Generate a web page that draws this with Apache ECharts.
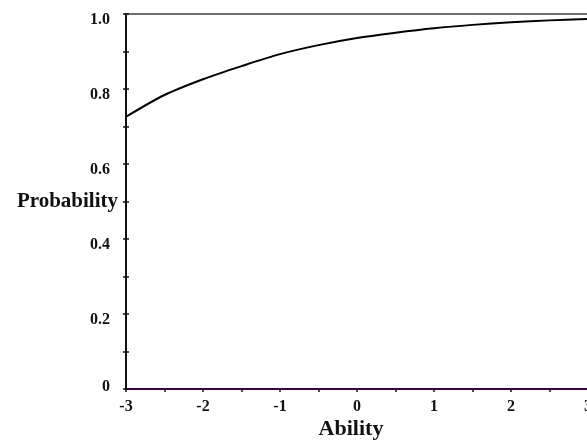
<!DOCTYPE html>
<html>
<head>
<meta charset="utf-8">
<script src="https://cdn.jsdelivr.net/npm/echarts@6/dist/echarts.min.js"></script>
<style>
  html, body { margin: 0; padding: 0; background: #fff; }
  #chart { width: 587px; height: 442px; }
</style>
</head>
<body>
<div id="chart"></div>
<script>
// ability values and probability
const ability = [-3, -2.5, -2, -1.5, -1, -0.5, 0, 0.5, 1, 1.5, 2, 2.5, 3];
const probability = [0.726, 0.784, 0.826, 0.861, 0.893, 0.917, 0.936, 0.950, 0.962, 0.971, 0.978, 0.983, 0.987];
const xTicks = [-3, -2, -1, 0, 1, 2, 3];
const yTicks = [0, 0.2, 0.4, 0.6, 0.8, 1.0];

const font = 'Liberation Serif';
let chart = echarts.init(document.getElementById('chart'), null, { renderer: 'canvas' });

let points = ability.map((a, i) => [a, probability[i]]);

chart.setOption({
  animation: false,
  grid: { left: 126, right: -1, top: 14, bottom: 53, outerBoundsMode: 'none', containLabel: false },
  xAxis: [{
    type: 'value',
    min: xTicks[0],
    max: xTicks[xTicks.length - 1],
    interval: 1,
    name: 'Ability',
    nameLocation: 'middle',
    nameGap: 29,
    nameMoveOverlap: false,
    nameTextStyle: { fontFamily: font, fontWeight: 'bold', fontSize: 22, color: '#111', padding: [0, 12, 0, 0] },
    axisLine: { onZero: false, lineStyle: { color: '#3f0040', width: 2 } },
    axisTick: { length: 3, lineStyle: { color: '#111', width: 1.5 } },
    minorTick: { show: true, splitNumber: 2, length: 3, lineStyle: { color: '#111', width: 1.5 } },
    axisLabel: { fontFamily: font, fontWeight: 'bold', fontSize: 16, color: '#111', margin: 10 },
    splitLine: { show: false }
  }, {
    type: 'value',
    position: 'top',
    min: xTicks[0],
    max: xTicks[xTicks.length - 1],
    axisLine: { show: true, onZero: false, lineStyle: { color: '#707070', width: 2 } },
    axisTick: { show: false },
    axisLabel: { show: false },
    splitLine: { show: false }
  }],
  yAxis: [{
    type: 'value',
    position: 'left',
    min: 0,
    max: 1,
    interval: 0.2,
    name: 'Probability',
    nameLocation: 'middle',
    nameRotate: 0,
    nameGap: 8,
    nameMoveOverlap: false,
    nameTextStyle: { fontFamily: font, fontWeight: 'bold', fontSize: 21, color: '#111', padding: [14, 0, 0, 0] },
    axisLine: { show: true, onZero: false, lineStyle: { color: '#111', width: 2 } },
    axisTick: { length: 3, lineStyle: { color: '#111', width: 1.5 } },
    minorTick: { show: true, splitNumber: 2, length: 3, lineStyle: { color: '#111', width: 1.5 } },
    axisLabel: {
      margin: 16,
      formatter: v => v === 0 ? '{z|0}' : '{n|' + v.toFixed(1) + '}',
      rich: {
        n: { fontFamily: font, fontWeight: 'bold', fontSize: 16, color: '#111', padding: [12, 0, 0, 0] },
        z: { fontFamily: font, fontWeight: 'bold', fontSize: 16, color: '#111', padding: [0, 0, 4, 0] }
      }
    },
    splitLine: { show: false }
  }, {
    // inner half of the crossing ticks
    type: 'value',
    position: 'left',
    min: 0,
    max: 1,
    interval: 0.2,
    axisLine: { show: false, onZero: false },
    axisTick: { inside: true, length: 3, lineStyle: { color: '#111', width: 1.5 } },
    minorTick: { show: true, splitNumber: 2, length: 3, lineStyle: { color: '#111', width: 1.5 } },
    axisLabel: { show: false },
    splitLine: { show: false }
  }],
  series: [{
    type: 'line',
    data: points,
    smooth: 0.3,
    showSymbol: false,
    lineStyle: { color: '#000', width: 2 },
    z: 3
  }]
});
</script>
</body>
</html>
